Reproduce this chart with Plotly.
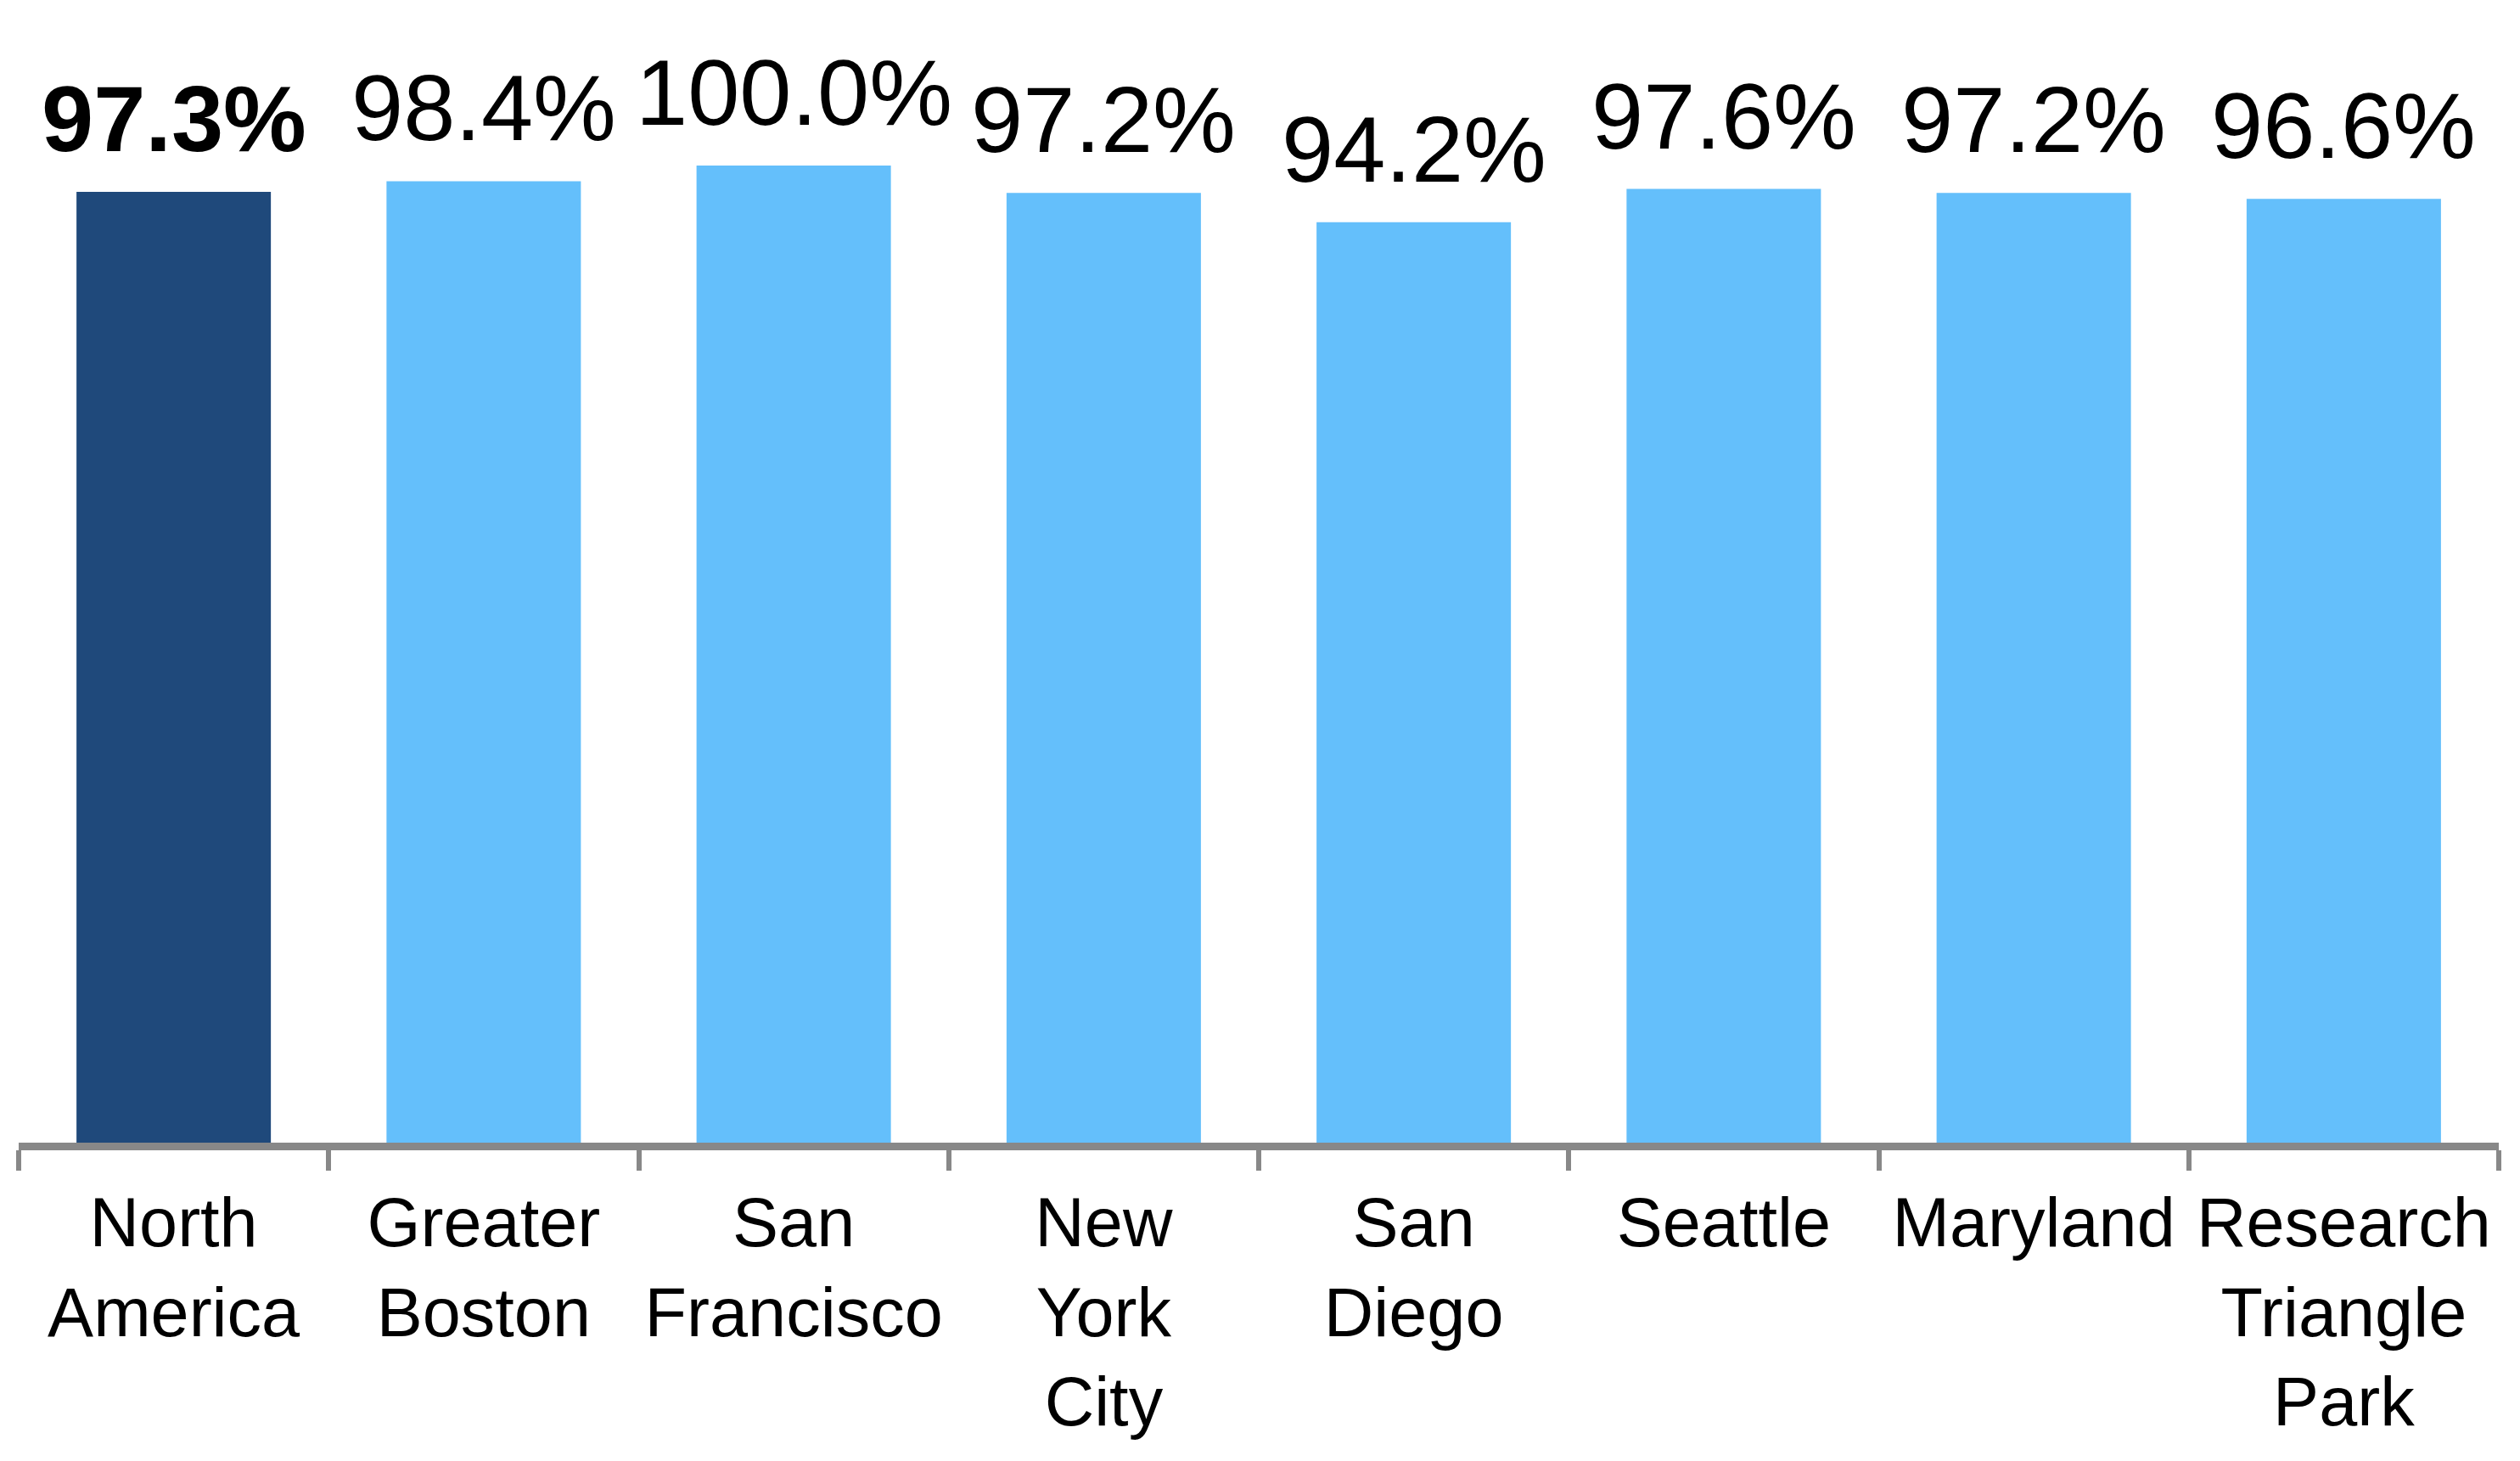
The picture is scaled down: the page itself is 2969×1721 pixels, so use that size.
import plotly.graph_objects as go

regions = ["North<br>America", "Greater<br>Boston", "San<br>Francisco", "New<br>York<br>City",
           "San<br>Diego", "Seattle", "Maryland", "Research<br>Triangle<br>Park"]
rates = [97.3, 98.4, 100.0, 97.2, 94.2, 97.6, 97.2, 96.6]
bar_colors = ["#1f497b"] + ["#64bffb"] * 7

labels = ["%.1f%%" % v for v in rates]
labels[0] = "<b>" + labels[0] + "</b>"

fig = go.Figure()
fig.add_trace(go.Bar(
    x=regions, y=rates,
    marker=dict(color=bar_colors, line=dict(width=0)),
))

# value labels sit a bit higher above the bars than plotly's outside text
for reg, val, lab in zip(regions, rates, labels):
    fig.add_annotation(x=reg, y=val, text=lab, showarrow=False,
                       yanchor="bottom", yshift=23,
                       font=dict(size=110, color="black", family="Liberation Sans"))

# page body adds ~8px offset, so margins compensate
fig.update_layout(
    width=2969, height=1721,
    paper_bgcolor="white", plot_bgcolor="white",
    margin=dict(l=14, r=33, t=187, b=383),
    bargap=0.373, showlegend=False,
    font=dict(family="Liberation Sans", color="black"),
)
fig.update_xaxes(
    showline=True, linecolor="#888888", linewidth=9,
    ticks="outside", tickson="boundaries", ticklen=24, tickwidth=6, tickcolor="#888888",
    tickfont=dict(size=81, color="black", family="Liberation Sans"),
    ticklabelstandoff=16, showgrid=False, range=[-0.5, 7.5],
)
fig.update_yaxes(visible=False, range=[0, 100], showgrid=False)

fig.write_html("out.html")
